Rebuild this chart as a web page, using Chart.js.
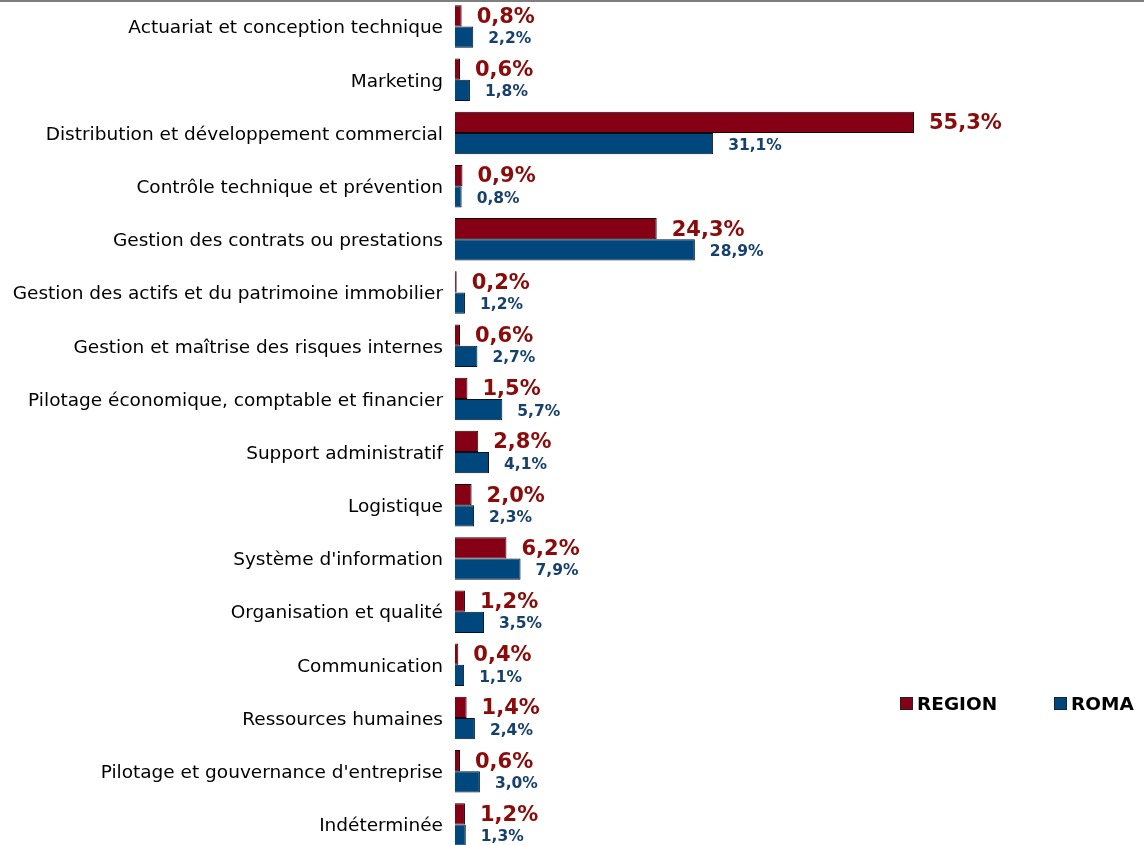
<!DOCTYPE html>
<html>
<head>
<meta charset="utf-8">
<script src="https://cdn.jsdelivr.net/npm/chart.js@4/dist/chart.umd.min.js"></script>
<style>
  html, body { margin: 0; padding: 0; background: #fff; overflow: hidden; }
  #wrap { position: relative; width: 1144px; height: 851px; }
  #topline { position: absolute; left: 0; top: 0; width: 1144px; height: 2px; background: #7f7f7f; }
  .leg { position: absolute; top: 693px; font: bold 18.5px "DejaVu Sans", sans-serif; color: #000; display: flex; align-items: center; }
  .leg i { display: inline-block; width: 11px; height: 11px; border: 1px solid #222; margin-right: 4px; }
</style>
</head>
<body>
<div id="wrap">
  <canvas id="chart" width="1144" height="851"></canvas>
  <div id="topline"></div>
  <div class="leg" style="left:900px"><i style="background:#850015"></i>REGION</div>
  <div class="leg" style="left:1054px"><i style="background:#00477d"></i>ROMA</div>
</div>
<script>
const categories = [
  'Actuariat et conception technique',
  'Marketing',
  'Distribution et développement commercial',
  'Contrôle technique et prévention',
  'Gestion des contrats ou prestations',
  'Gestion des actifs et du patrimoine immobilier',
  'Gestion et maîtrise des risques internes',
  'Pilotage économique, comptable et financier',
  'Support administratif',
  'Logistique',
  "Système d'information",
  'Organisation et qualité',
  'Communication',
  'Ressources humaines',
  "Pilotage et gouvernance d'entreprise",
  'Indéterminée'
];
const regionValues = [0.8, 0.6, 55.3, 0.9, 24.3, 0.2, 0.6, 1.5, 2.8, 2.0, 6.2, 1.2, 0.4, 1.4, 0.6, 1.2];
const romaValues   = [2.2, 1.8, 31.1, 0.8, 28.9, 1.2, 2.7, 5.7, 4.1, 2.3, 7.9, 3.5, 1.1, 2.4, 3.0, 1.3];

// draws the value labels to the right of each bar
const valueLabels = {
  id: 'valueLabels',
  afterDatasetsDraw(chart) {
    const ctx = chart.ctx;
    ctx.save();
    ctx.textAlign = 'left';
    ctx.textBaseline = 'middle';
    chart.data.datasets.forEach((ds, i) => {
      const meta = chart.getDatasetMeta(i);
      ctx.fillStyle = ds.labelColor;
      ctx.font = ds.labelFont;
      meta.data.forEach((bar, j) => {
        const txt = ds.data[j].toFixed(1).replace('.', ',') + '%';
        ctx.fillText(txt, bar.x + 15, bar.y + ds.labelDy);
      });
    });
    ctx.restore();
  }
};

new Chart(document.getElementById('chart'), {
  type: 'bar',
  data: {
    labels: categories,
    datasets: [
      {
        label: 'REGION', data: regionValues,
        backgroundColor: '#850015', borderColor: '#1a0004', borderWidth: 1,
        labelColor: '#8b0a0a', labelFont: 'bold 21px "DejaVu Sans", sans-serif', labelDy: 1.5
      },
      {
        label: 'ROMA', data: romaValues,
        backgroundColor: '#00477d', borderColor: '#00121f', borderWidth: 1,
        labelColor: '#17406d', labelFont: 'bold 15.5px "DejaVu Sans", sans-serif', labelDy: 2
      }
    ]
  },
  options: {
    indexAxis: 'y',
    responsive: false,
    animation: false,
    layout: { padding: { left: 0, right: 191, top: 0, bottom: 0 } },
    datasets: { bar: { categoryPercentage: 0.8, barPercentage: 1.0 } },
    scales: {
      x: { display: false, min: 0, max: 60 },
      y: {
        afterFit(s) { s.width = 455; s.paddingTop = 0; s.paddingBottom = 0; },
        grid: { display: false, drawTicks: false },
        border: { display: false },
        ticks: { padding: 12, labelOffset: 2, color: '#000', font: { family: 'DejaVu Sans', size: 18.5 } }
      }
    },
    plugins: { legend: { display: false }, tooltip: { enabled: false } }
  },
  plugins: [valueLabels]
});
</script>
</body>
</html>
